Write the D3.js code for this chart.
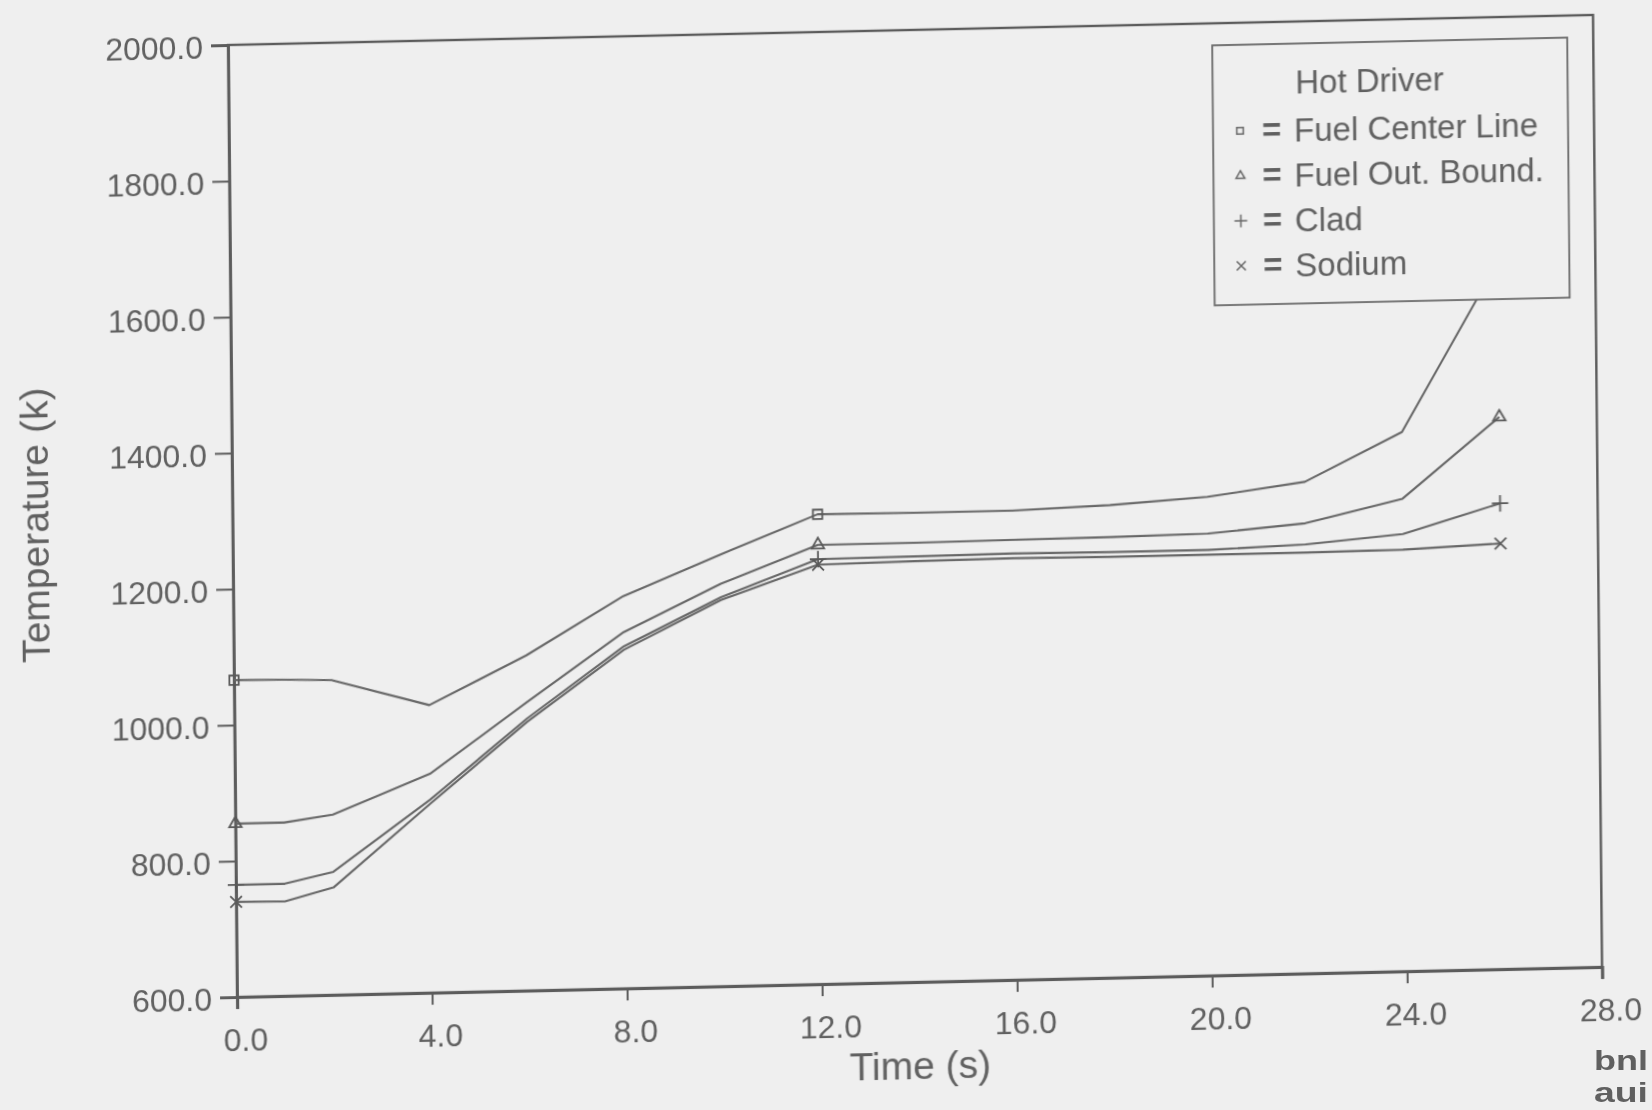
<!DOCTYPE html>
<html>
<head>
<meta charset="utf-8">
<script src="https://cdn.jsdelivr.net/npm/d3@7"></script>
<style>
  html, body { margin: 0; padding: 0; background: #efefef; }
  svg { display: block; }
  text { font-family: "Liberation Sans", Arial, Helvetica, sans-serif; fill: #606060; }
</style>
</head>
<body>
<svg id="chart" width="1652" height="1110"></svg>
<script>
// Hot driver transient: temperatures vs time
const time = [0, 1, 2, 4, 6, 8, 10, 12, 14, 16, 18, 20, 22, 24, 26];
const fuelCenterLine = [1066, 1065, 1063, 1023, 1093, 1177, 1235, 1291, 1290, 1290, 1295, 1304, 1323, 1393, 1640];
const fuelOutBound   = [855, 855, 865, 922, 1024, 1124, 1192, 1246, 1246, 1247, 1248, 1250, 1262, 1295, 1412];
const clad           = [765, 765, 781, 884, 1000, 1103, 1172, 1225, 1226, 1227, 1226, 1226, 1231, 1243, 1285];
const sodium         = [740, 739, 758, 878, 995, 1098, 1168, 1217, 1219, 1220, 1219, 1219, 1219, 1220, 1226];

const seriesNames = ["Fuel Center Line", "Fuel Out. Bound.", "Clad", "Sodium"];
const markerTimes = [0, 12, 26];
const xTicks = [0, 4, 8, 12, 16, 20, 24, 28];
const yTicks = [600, 800, 1000, 1200, 1400, 1600, 1800, 2000];
const legendTitle = "Hot Driver";
const xTitle = "Time (s)";
const yTitle = "Temperature (k)";

const W = 1365, H = 952;
const ink = "#5c5c5c";

const svg = d3.select("#chart");
svg.append("rect").attr("width", 1652).attr("height", 1110).attr("fill", "#efefef");

const defs = svg.append("defs");
defs.append("filter").attr("id", "soft")
  .append("feGaussianBlur").attr("stdDeviation", 0.55);

// the sheet sits slightly skewed on the page
const g = svg.append("g")
  .attr("transform", "matrix(1,-0.022,0.0095,1,228,45)")
  .attr("filter", "url(#soft)");

const x = d3.scaleLinear().domain([0, 28]).range([0, W]);
const y = d3.scaleLinear().domain([600, 2000]).range([H, 0]);

// frame
g.append("rect").attr("x", 0).attr("y", 0).attr("width", W).attr("height", H)
  .attr("fill", "none").attr("stroke", ink).attr("stroke-width", 2.4);

// axes
const yAxis = d3.axisLeft(y).tickValues(yTicks).tickFormat(d3.format(".1f"))
  .tickSize(17).tickPadding(8);
const ya = g.append("g").call(yAxis);
ya.select(".domain").attr("stroke", ink).attr("stroke-width", 2.8);
ya.selectAll(".tick line").attr("stroke", ink).attr("stroke-width", 2);
ya.selectAll(".tick text").attr("font-size", 32).attr("fill", "#606060")
  .attr("font-family", "Liberation Sans, Arial, sans-serif").attr("dy", "0.4em");

const xAxis = d3.axisBottom(x).tickValues(xTicks).tickFormat(d3.format(".1f"))
  .tickSize(12).tickPadding(19);
const xa = g.append("g").attr("transform", `translate(0,${H})`).call(xAxis);
xa.select(".domain").attr("stroke", ink).attr("stroke-width", 3.2);
xa.selectAll(".tick line").attr("stroke", ink).attr("stroke-width", 2);
xa.selectAll(".tick text").attr("font-size", 32).attr("fill", "#606060")
  .attr("font-family", "Liberation Sans, Arial, sans-serif").attr("dx", "0.25em");

// axis titles
g.append("text").attr("x", x(14.0)).attr("y", H + 97)
  .attr("text-anchor", "middle").attr("font-size", 39).text(xTitle);
g.append("text").attr("transform", `translate(-184,${y(1300)}) rotate(-90)`)
  .attr("text-anchor", "middle").attr("font-size", 39).text(yTitle);

// series
const series = [fuelCenterLine, fuelOutBound, clad, sodium].map((vals, i) => ({
  name: seriesNames[i],
  points: time.map((t, j) => ({ t, v: vals[j] }))
}));

const line = d3.line().x(d => x(d.t)).y(d => y(d.v));
g.append("g").selectAll("path").data(series).join("path")
  .attr("d", d => line(d.points))
  .attr("fill", "none").attr("stroke", "#666").attr("stroke-width", 2.1)
  .attr("stroke-linejoin", "round");

const symbolTypes = [d3.symbolSquare2, d3.symbolTriangle2, d3.symbolPlus, d3.symbolTimes];
const symbolSizes = [110, 110, 90, 90];
series.forEach((s, i) => {
  const sym = d3.symbol().type(symbolTypes[i]).size(symbolSizes[i]);
  g.append("g").selectAll("path")
    .data(s.points.filter(p => markerTimes.includes(p.t)))
    .join("path")
    .attr("transform", p => `translate(${x(p.t)},${y(p.v)})`)
    .attr("d", sym)
    .attr("fill", "none").attr("stroke", "#5a5a5a").attr("stroke-width", 1.8);
});

// legend box (opaque, drawn over the curves)
const lg = g.append("g").attr("transform", "translate(984,22)");
lg.append("rect").attr("width", 355).attr("height", 260)
  .attr("fill", "#efefef").attr("stroke", "#6a6a6a").attr("stroke-width", 1.8);
lg.append("text").attr("x", 157).attr("y", 50).attr("text-anchor", "middle")
  .attr("font-size", 33).text(legendTitle);
seriesNames.forEach((name, i) => {
  const cy = 86 + i * 45;
  lg.append("path").attr("transform", `translate(27,${cy})`)
    .attr("d", d3.symbol().type(symbolTypes[i]).size(55)())
    .attr("fill", "none").attr("stroke", "#666").attr("stroke-width", 1.5);
  lg.append("text").attr("x", 49).attr("y", cy + 11).attr("font-size", 33)
    .attr("font-weight", "bold").text("=");
  lg.append("text").attr("x", 81).attr("y", cy + 12).attr("font-size", 33).text(name);
});

// laboratory mark, bottom right corner
const logo = svg.append("g").attr("filter", "url(#soft)");
[["bnl", 1070], ["aui", 1102]].forEach(([word, base]) => {
  logo.append("text").attr("x", 1594).attr("y", base)
    .attr("font-family", "Liberation Sans Narrow, Liberation Sans, Arial, sans-serif")
    .attr("font-weight", "bold").attr("font-size", 28).attr("fill", "#3a3a3a")
    .attr("textLength", 54).attr("lengthAdjust", "spacingAndGlyphs")
    .text(word);
});
</script>
</body>
</html>
